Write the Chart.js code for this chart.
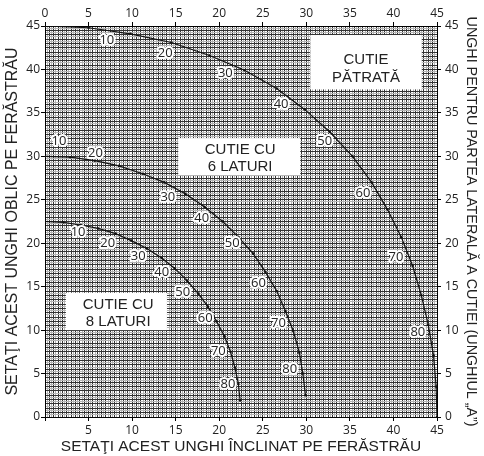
<!DOCTYPE html>
<html>
<head>
<meta charset="utf-8">
<script src="https://cdn.jsdelivr.net/npm/chart.js@4.4.1/dist/chart.umd.min.js"></script>
<style>
  html, body { margin: 0; padding: 0; background: #fff; }
</style>
</head>
<body>
<canvas id="miterChart" width="484" height="456"></canvas>
<script>
// Mitre (x) and bevel (y) settings along each box curve, side angle A = 0..90 in steps of 5
const squareMiter = [0, 5.0, 9.8, 14.5, 18.9, 22.9, 26.6, 29.8, 32.7, 35.3, 37.5, 39.3, 40.9, 42.2, 43.2, 44.0, 44.6, 44.9, 45];
const squareBevel = [45, 44.8, 44.1, 43.1, 41.6, 39.9, 37.8, 35.4, 32.8, 30.0, 27.0, 23.9, 20.7, 17.4, 14.0, 10.6, 7.1, 3.5, 0];

const hexMiter = [0, 2.9, 5.7, 8.5, 11.2, 13.7, 16.1, 18.3, 20.4, 22.2, 23.9, 25.3, 26.6, 27.6, 28.5, 29.2, 29.6, 29.9];
const hexBevel = [30, 29.9, 29.5, 28.9, 28.0, 27.0, 25.7, 24.2, 22.5, 20.7, 18.8, 16.7, 14.5, 12.2, 9.9, 7.4, 5.0, 2.5];

const octMiter = [0, 2.1, 4.1, 6.1, 8.1, 9.9, 11.7, 13.4, 14.9, 16.3, 17.6, 18.7, 19.7, 20.6, 21.3, 21.8, 22.2, 22.4];
const octBevel = [22.5, 22.4, 22.1, 21.7, 21.1, 20.3, 19.4, 18.3, 17.1, 15.7, 14.2, 12.7, 11.0, 9.3, 7.5, 5.7, 3.8, 1.9];

// Side angle values written along the curves
const sideAngles = [10, 20, 30, 40, 50, 60, 70, 80];

// Tick labels every 5 degrees
const tickStep = 5;
const axisMax = 45;

// where the side angle numbers sit (data coords)
const squareLabelPos = [[7.1, 43.4], [13.8, 41.9], [20.7, 39.6], [27.1, 36.0], [32.1, 31.7], [36.5, 25.8], [40.3, 18.4], [42.8, 9.7]];
const hexLabelPos = [[1.6, 31.7], [5.8, 30.4], [14.1, 25.3], [18.0, 22.9], [21.5, 20.0], [24.5, 15.4], [26.8, 10.8], [28.1, 5.5]];
const octLabelPos = [[3.8, 21.2], [7.2, 20.0], [10.7, 18.5], [13.4, 16.7], [15.8, 14.3], [18.4, 11.4], [19.9, 7.6], [21.0, 3.8]];

// white boxes with the box names
const boxNotes = [
  { x0: 30.45, x1: 43.25, y0: 37.7, y1: 43.96, cx: 36.85, lines: ['CUTIE', 'PĂTRATĂ'], ly: [41.1, 39.0] },
  { x0: 15.3, x1: 29.3, y0: 27.85, y1: 32.1, cx: 22.4, lines: ['CUTIE CU', '6 LATURI'], ly: [30.73, 28.77] },
  { x0: 2.4, x1: 14.0, y0: 10.0, y1: 14.3, cx: 8.4, lines: ['CUTIE CU', '8 LATURI'], ly: [12.9, 10.94] }
];

const toPoints = (xs, ys) => xs.map((x, i) => ({ x: x, y: ys[i] }));

const numFont = { family: '"Open Sans", sans-serif', size: 12 };
const titleFont = { family: '"Liberation Sans", Arial, sans-serif', size: 14 };

const notesPlugin = {
  id: 'notes',
  beforeDatasetsDraw(chart) {
    const { ctx, scales: { x, y } } = chart;
    ctx.save();
    boxNotes.forEach(b => {
      const left = x.getPixelForValue(b.x0);
      const right = x.getPixelForValue(b.x1);
      const top = y.getPixelForValue(b.y1);
      const bottom = y.getPixelForValue(b.y0);
      ctx.fillStyle = '#fff';
      ctx.fillRect(left, top, right - left, bottom - top);
      ctx.fillStyle = '#222';
      ctx.font = '15px "Liberation Sans", Arial, sans-serif';
      ctx.textAlign = 'center';
      ctx.textBaseline = 'middle';
      b.lines.forEach((t, i) => {
        ctx.fillText(t, x.getPixelForValue(b.cx), y.getPixelForValue(b.ly[i]));
      });
    });
    ctx.restore();
  },
  afterDatasetsDraw(chart) {
    const { ctx, scales: { x, y } } = chart;
    ctx.save();
    ctx.font = '13px "Open Sans", sans-serif';
    ctx.textAlign = 'center';
    ctx.textBaseline = 'middle';
    ctx.lineJoin = 'round';
    [squareLabelPos, hexLabelPos, octLabelPos].forEach(list => {
      list.forEach((p, i) => {
        const px = x.getPixelForValue(p[0]);
        const py = y.getPixelForValue(p[1]);
        const txt = String(sideAngles[i]);
        ctx.strokeStyle = '#fff';
        ctx.lineWidth = 4;
        ctx.strokeText(txt, px, py);
        ctx.fillStyle = '#222';
        ctx.fillText(txt, px, py);
      });
    });
    ctx.restore();
  }
};

const curveStyle = {
  showLine: true,
  borderColor: '#111',
  borderWidth: 1.2,
  pointRadius: 1.3,
  pointBackgroundColor: '#111',
  pointBorderWidth: 0,
  tension: 0
};

// grid every quarter degree, darker on the half degrees
const gridLine = {
  color: c => (c.tick && c.tick.value % 0.5 === 0 ? '#333' : '#b4b4b4'),
  tickColor: c => (c.tick && c.tick.value % tickStep === 0 ? '#000' : 'rgba(0,0,0,0)'),
  tickLength: 4,
  lineWidth: 1
};

const quarterTicks = (showZero, pad) => ({
  stepSize: 0.25,
  maxTicksLimit: 1000,
  autoSkip: false,
  maxRotation: 0,
  padding: pad,
  color: '#222',
  font: numFont,
  callback: v => (v % tickStep === 0 && (showZero || v > 0) ? String(v) : '')
});

new Chart(document.getElementById('miterChart'), {
  type: 'scatter',
  data: {
    datasets: [
      Object.assign({ data: toPoints(squareMiter, squareBevel) }, curveStyle),
      Object.assign({ data: toPoints(hexMiter, hexBevel) }, curveStyle),
      Object.assign({ data: toPoints(octMiter, octBevel) }, curveStyle)
    ]
  },
  options: {
    responsive: false,
    animation: false,
    events: [],
    layout: { padding: 0 },
    plugins: { legend: { display: false }, tooltip: { enabled: false } },
    scales: {
      x: {
        type: 'linear', position: 'bottom', min: 0, max: axisMax,
        grid: gridLine,
        border: { display: true, color: '#000', width: 1 },
        ticks: quarterTicks(false, 2),
        title: { display: true, text: 'SETAŢI ACEST UNGHI ÎNCLINAT PE FERĂSTRĂU', color: '#222', font: { family: titleFont.family, size: 15.5 }, padding: { top: 0, bottom: 0 } },
        afterFit: s => { s.height = 39; }
      },
      x2: {
        type: 'linear', position: 'top', min: 0, max: axisMax,
        grid: Object.assign({}, gridLine, { drawOnChartArea: false }),
        border: { display: true, color: '#000', width: 1 },
        ticks: quarterTicks(true, 1),
        afterFit: s => { s.height = 26; }
      },
      y: {
        type: 'linear', position: 'left', min: 0, max: axisMax,
        grid: gridLine,
        border: { display: true, color: '#000', width: 1 },
        ticks: quarterTicks(true, 1),
        title: { display: true, text: 'SETAŢI ACEST UNGHI OBLIC PE FERĂSTRĂU', color: '#222', font: { family: titleFont.family, size: 16 }, padding: { top: 3, bottom: 0 } },
        afterFit: s => { s.width = 45; }
      },
      y2: {
        type: 'linear', position: 'right', min: 0, max: axisMax,
        grid: Object.assign({}, gridLine, { drawOnChartArea: false }),
        border: { display: true, color: '#000', width: 1 },
        ticks: quarterTicks(true, 4),
        title: { display: true, text: 'UNGHI PENTRU PARTEA LATERALĂ A CUTIEI (UNGHIUL „A”)', color: '#222', font: { family: titleFont.family, size: 14.3 }, padding: { top: 4, bottom: 0 } },
        afterFit: s => { s.width = 47; }
      }
    }
  },
  plugins: [notesPlugin]
});
</script>
</body>
</html>
